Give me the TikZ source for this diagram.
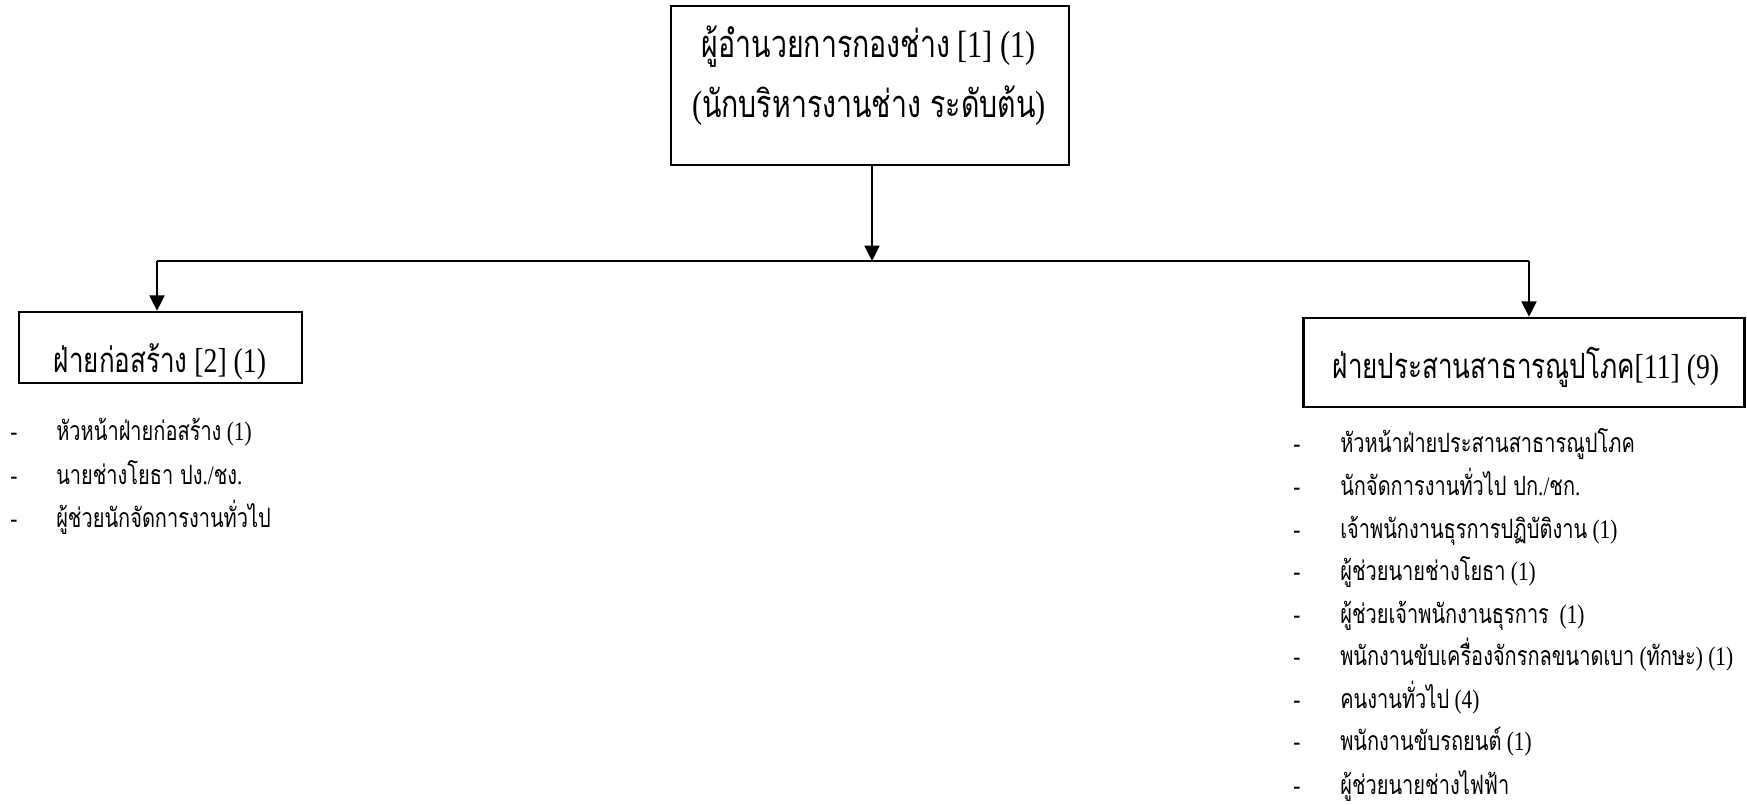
\documentclass[tikz,border=0pt]{standalone}
\usepackage{fontspec}
\setmainfont{Liberation Serif}[FakeStretch=0.8]
\newfontfamily\thai[Script=Thai,FakeStretch=0.75]{Loma}
\newcommand\T[1]{{\thai #1}}
\usetikzlibrary{arrows.meta}
\begin{document}
\begin{tikzpicture}[x=0.75pt,y=-0.75pt,
  boxnode/.style={draw, line width=1.9pt, inner sep=0pt, rectangle},
  conn/.style={line width=1.5pt},
  arr/.style={conn, -{Triangle[width=11.25pt,length=11.5pt]}},
  toptext/.style={inner sep=0pt, anchor=base, font=\fontsize{28.5}{32}\selectfont},
  boxtext/.style={inner sep=0pt, anchor=base, font=\fontsize{26}{30}\selectfont},
  item/.style={inner sep=0pt, anchor=base west, font=\fontsize{20}{24}\selectfont},
]
\useasboundingbox (0,0) rectangle (1747,805);
% boxes
\node[boxnode, minimum width=398*0.75pt, minimum height=159*0.75pt] (top) at (870,85.5) {};
\node[boxnode, minimum width=283*0.75pt, minimum height=71*0.75pt] (left) at (160.5,347.5) {};
\node[boxnode, minimum width=441*0.75pt, minimum height=89*0.75pt] (right) at (1524,362.5) {};
% texts
\node[toptext] (t1) at (869,58) {\T{ผู้อำนวยการกองช่าง} [1] (1)};
\node[toptext] (t2) at (869,118) {(\T{นักบริหารงานช่าง ระดับต้น})};
\node[boxtext] (lt) at (160,372) {\T{ฝ่ายก่อสร้าง} [2] (1)};
\node[boxtext] (rt) at (1526,378) {\T{ฝ่ายประสานสาธารณูปโภค}[11] (9)};
% connectors
\coordinate (jc) at (872,261);
\coordinate (jl) at (157,261);
\coordinate (jr) at (1529,261);
\draw[arr] (top.south -| jc) -- (jc);
\draw[conn] (jl) -- (jr);
\draw[arr] (jl) -- (jl |- left.north);
\draw[arr] (jr) -- (jr |- right.north);
% left list
\foreach \y/\txt [count=\i] in {440/{\T{หัวหน้าฝ่ายก่อสร้าง} (1)},
  484/{\T{นายช่างโยธา ปง}./\T{ชง}.},
  527/{\T{ผู้ช่วยนักจัดการงานทั่วไป}}}{
  \node[item] (ld\i) at (10,\y) {-};
  \node[item] (li\i) at (56,\y) {\txt};
}
% right list
\foreach \y/\txt [count=\i] in {452/{\T{หัวหน้าฝ่ายประสานสาธารณูปโภค}},
  495/{\T{นักจัดการงานทั่วไป ปก}./\T{ชก}.},
  538/{\T{เจ้าพนักงานธุรการปฏิบัติงาน} (1)},
  580/{\T{ผู้ช่วยนายช่างโยธา} (1)},
  623/{\T{ผู้ช่วยเจ้าพนักงานธุรการ}\ \ (1)},
  665/{\T{พนักงานขับเครื่องจักรกลขนาดเบา} (\T{ทักษะ}) (1)},
  708/{\T{คนงานทั่วไป} (4)},
  750/{\T{พนักงานขับรถยนต์} (1)},
  794/{\T{ผู้ช่วยนายช่างไฟฟ้า}}}{
  \node[item] (rd\i) at (1293,\y) {-};
  \node[item] (ri\i) at (1340,\y) {\txt};
}
\end{tikzpicture}
\end{document}
